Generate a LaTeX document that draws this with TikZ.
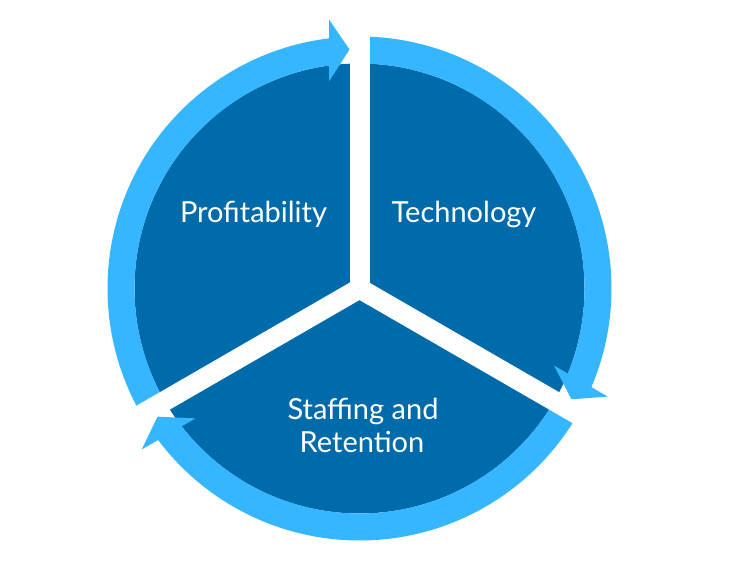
\documentclass[tikz,border=0pt]{standalone}
\usepackage{fontspec}
\setmainfont{Lato}
\definecolor{darkblue}{HTML}{006BAB}
\definecolor{lightblue}{HTML}{36B6FF}
\begin{document}
\begin{tikzpicture}[x=1pt,y=1pt,
  seg/.style={fill=lightblue},
  gapline/.style={draw=white,line width=20pt},
  lbl/.style={text=white,font=\fontsize{29}{32}\selectfont,anchor=base,inner sep=0pt}]
\useasboundingbox[fill=white] (0,0) rectangle (736,578);
\coordinate (c) at (359.5,289.5);
\fill[darkblue] (c) circle (225);
\foreach \r in {0,-120,-240}{
  \begin{scope}[shift={(c)}, rotate=\r]
    \fill[seg] (210:225) arc[start angle=210,end angle=95,radius=225]
      -- (95:252) arc[start angle=95,end angle=210,radius=252] -- cycle;
    \fill[seg] (-30.5,207) -- (-10,239) -- (-30.5,269) -- cycle;
  \end{scope}}
\foreach \a in {90,-30,210} \draw[gapline] (c) -- ++(\a:290);
\node[lbl] (p) at (253.5,355) {Profitability};
\node[lbl] (t) at (464,355) {Technology};
\node[lbl] (s) at (363,158) {Staffing and};
\node[lbl] (r) at (362,125.3) {Retention};
\end{tikzpicture}
\end{document}
